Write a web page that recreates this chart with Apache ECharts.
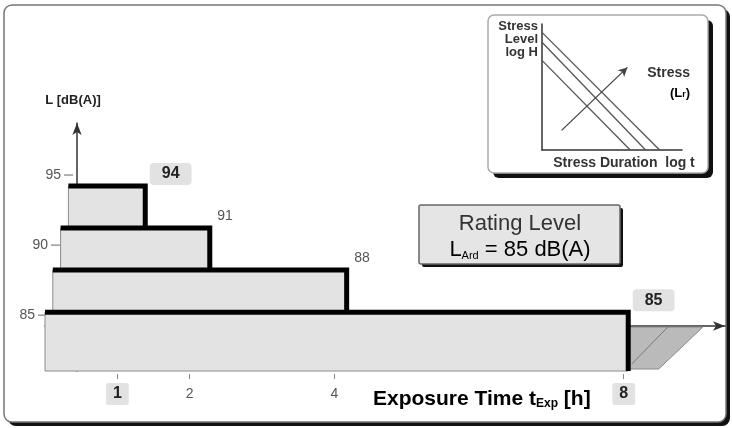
<!DOCTYPE html>
<html lang="en">
<head>
<meta charset="UTF-8">
<script src="https://cdn.jsdelivr.net/npm/echarts@6.0.0/dist/echarts.min.js"></script>
<title>Rating Level</title>
<style>html,body{margin:0;padding:0;background:#fff;}</style>
</head>
<body>
<div id="main" style="width:732px;height:428px;"></div>
<script type="text/javascript">
var chart = echarts.init(document.getElementById('main'));

// equal dose steps: +3 dB for every halving of the exposure time
var hours = [8, 4, 2, 1];
var levels = [85, 88, 91, 94];
var yTicks = [85, 90, 95];
var xTicks = [1, 2, 4, 8];

// inset: stress level vs stress duration (log / log)
var insetLines = [
    [[0, 8.4], [8.4, 0]],
    [[0, 7.7], [7.4, 0]],
    [[0, 6.4], [6.3, 0]]
];
var insetArrow = [[1.4, 1.4], [6.1, 5.9]];

var yMin = 80.8;
var SKEW = 2.6;          // px per dB, fake perspective of the steps
var boxed = [1, 8];      // hours whose labels sit in a grey box
var FONT = 'Liberation Sans, Arial, sans-serif';

function renderBar(params, api) {
    var t = api.value(0), lv = api.value(1), fl = api.value(2);
    var dx = SKEW * (lv - levels[0]);
    var x0 = api.coord([0, lv])[0] + dx;
    var p = api.coord([t, lv]);
    var x1 = p[0] + dx + 7;
    var top = p[1];
    var bottom = api.coord([0, fl])[1];
    var kids = [];
    if (t === hours[0]) {
        // shaded continuation after the shift
        kids.push({
            type: 'polygon',
            shape: { points: [[x1 - 2, top + 15], [x1 + 72, top + 15], [x1 + 28, bottom - 2], [x1 - 2, bottom - 2]] },
            style: { fill: '#bababa', stroke: '#8a8a8a', lineWidth: 1 }
        });
        kids.push({
            type: 'line',
            shape: { x1: x1 + 1, y1: bottom - 7, x2: x1 + 37, y2: top + 15 },
            style: { stroke: '#7a7a7a', lineWidth: 1 }
        });
    }
    kids.push({
        type: 'rect',
        shape: { x: x0, y: top, width: x1 - 2.5 - x0, height: bottom - top },
        style: { fill: '#e3e3e3', stroke: '#8c8c8c', lineWidth: 1 }
    });
    kids.push({
        type: 'polyline',
        shape: { points: [[x0, top], [x1 - 2.5, top], [x1 - 2.5, bottom]] },
        style: { stroke: '#000', lineWidth: 5, fill: null, lineJoin: 'miter' }
    });
    var hl = boxed.indexOf(t) >= 0;
    kids.push({
        type: 'text',
        style: {
            text: String(lv),
            x: hl ? x1 + 2 : x1 + 5,
            y: top - 12,
            align: 'left',
            verticalAlign: 'middle',
            fill: hl ? '#222' : '#555',
            font: hl ? 'bold 16px ' + FONT : '14px ' + FONT,
            backgroundColor: hl ? '#e2e2e2' : null,
            padding: hl ? [3, 12] : 0,
            borderRadius: 4
        }
    });
    return { type: 'group', children: kids };
}

function renderTick(params, api) {
    var v = api.value(1);
    var p = api.coord([0, v]);
    var x = p[0] + SKEW * (v - levels[0]);
    var y = p[1] + 3;
    return {
        type: 'group',
        children: [
            { type: 'line', shape: { x1: x - 7, y1: y, x2: x + 2, y2: y }, style: { stroke: '#666', lineWidth: 1 } },
            { type: 'text', style: { text: String(v), x: x - 10, y: y, align: 'right', verticalAlign: 'middle', fill: '#555', font: '14px ' + FONT } }
        ]
    };
}

// panel with a solid black drop shadow at right / bottom
function panel(x, y, w, h, r, off, fill, stroke, z) {
    return [
        { type: 'rect', z: z, shape: { x: x + off, y: y + off, width: w, height: h, r: r }, style: { fill: '#111' } },
        { type: 'rect', z: z + 1, shape: { x: x, y: y, width: w, height: h, r: r }, style: { fill: fill, stroke: stroke, lineWidth: 1.5 } }
    ];
}

var barData = levels.map(function (lv, i) {
    return [hours[i], lv, i === 0 ? yMin : levels[i - 1]];
}).reverse();

var insetSeries = insetLines.map(function (pts, i) {
    var s = {
        type: 'line',
        xAxisIndex: 2,
        yAxisIndex: 1,
        data: pts,
        showSymbol: false,
        silent: true,
        lineStyle: { color: '#555', width: 1.3 }
    };
    if (i === 0) {
        s.markLine = {
            silent: true,
            symbol: ['none', 'arrow'],
            symbolSize: [7, 9],
            label: { show: false },
            lineStyle: { color: '#444', width: 1.3, type: 'solid' },
            data: [[{ coord: insetArrow[0] }, { coord: insetArrow[1] }]]
        };
    }
    return s;
});

var option = {
    animation: false,
    textStyle: { fontFamily: FONT },
    grid: [
        { left: 45, right: 7, top: 123, bottom: 57 },
        { left: 542, top: 24, width: 140, height: 126 }
    ],
    xAxis: [
        {
            type: 'value', gridIndex: 0, min: 0, max: 9.4, position: 'bottom', offset: 3,
            axisLine: { show: false, onZero: false },
            axisTick: { show: true, customValues: xTicks, length: 5, lineStyle: { color: '#888' } },
            splitLine: { show: false },
            axisLabel: {
                customValues: xTicks,
                margin: 12,
                formatter: function (v) { return (boxed.indexOf(v) >= 0 ? '{hl|' : '{n|') + v + '}'; },
                rich: {
                    hl: { fontSize: 16, fontWeight: 'bold', color: '#222', backgroundColor: '#e2e2e2', borderRadius: 3, padding: [3, 7], lineHeight: 16 },
                    n: { fontSize: 14, color: '#555', padding: [3, 7], lineHeight: 16 }
                }
            }
        },
        {
            type: 'value', gridIndex: 0, min: 0, max: 9.4, position: 'bottom', offset: -45,
            axisLine: { show: true, onZero: false, symbol: ['none', 'arrow'], symbolSize: [7, 12], lineStyle: { color: '#333', width: 1.5 } },
            axisTick: { show: false }, axisLabel: { show: false }, splitLine: { show: false }
        },
        {
            type: 'value', gridIndex: 1, min: 0, max: 10,
            axisLine: { show: true, onZero: false, lineStyle: { color: '#333', width: 1.5 } },
            axisTick: { show: false }, axisLabel: { show: false }, splitLine: { show: false }
        }
    ],
    yAxis: [
        {
            type: 'value', gridIndex: 0, min: yMin, max: 98.5, position: 'left', offset: -32,
            name: 'L [dB(A)]',
            nameLocation: 'end',
            nameGap: 16,
            nameTextStyle: { fontSize: 13, fontWeight: 'bold', color: '#222', padding: [0, 8, 0, 0] },
            axisLine: { show: true, onZero: false, symbol: ['none', 'arrow'], symbolSize: [7, 12], lineStyle: { color: '#333', width: 1.5 } },
            axisTick: { show: false }, axisLabel: { show: false }, splitLine: { show: false }
        },
        {
            type: 'value', gridIndex: 1, min: 0, max: 9,
            axisLine: { show: true, onZero: false, lineStyle: { color: '#333', width: 1.5 } },
            axisTick: { show: false }, axisLabel: { show: false }, splitLine: { show: false }
        }
    ],
    graphic: []
        .concat(panel(4, 5, 722, 417, 8, 4, '#fff', '#777', -12))
        .concat(panel(488, 15, 220, 158, 6, 5, '#fff', '#aaa', -8))
        .concat(panel(419, 205, 201, 59, 2, 3, '#e5e5e5', '#666', -8))
        .concat([
        {
            type: 'text', z: 5,
            style: { text: 'Rating Level', x: 520, y: 224, align: 'center', verticalAlign: 'middle', fill: '#333', font: '22px ' + FONT }
        },
        {
            type: 'text', z: 5,
            style: {
                text: '{a|L}{s|Ard}{a| = 85 dB(A)}', x: 520, y: 248, align: 'center', verticalAlign: 'middle',
                rich: {
                    a: { fontSize: 22, lineHeight: 26, color: '#333', fontFamily: FONT, verticalAlign: 'bottom' },
                    s: { fontSize: 11, lineHeight: 11, color: '#333', fontFamily: FONT, verticalAlign: 'bottom' }
                }
            }
        },
        {
            type: 'text', z: 5,
            style: {
                text: '{a|Exposure Time t}{s|Exp}{a| [h]}', x: 373, y: 398, align: 'left', verticalAlign: 'middle',
                rich: {
                    a: { fontSize: 21, lineHeight: 24, fontWeight: 'bold', color: '#222', fontFamily: FONT, verticalAlign: 'bottom' },
                    s: { fontSize: 12, lineHeight: 12, fontWeight: 'bold', color: '#222', fontFamily: FONT, verticalAlign: 'bottom' }
                }
            }
        },
        {
            type: 'text', z: 5,
            style: { text: 'Stress\nLevel\nlog H', x: 538, y: 20, align: 'right', verticalAlign: 'top', fill: '#333', font: 'bold 13px ' + FONT, lineHeight: 13 }
        },
        {
            type: 'text', z: 5,
            style: { text: 'Stress', x: 690, y: 73, align: 'right', verticalAlign: 'middle', fill: '#333', font: 'bold 14px ' + FONT }
        },
        {
            type: 'text', z: 5,
            style: {
                text: '{a|(L}{s|r}{a|)}', x: 690, y: 92, align: 'right', verticalAlign: 'middle',
                rich: {
                    a: { fontSize: 13, lineHeight: 15, fontWeight: 'bold', color: '#333', fontFamily: FONT, verticalAlign: 'bottom' },
                    s: { fontSize: 9, lineHeight: 9, fontWeight: 'bold', color: '#333', fontFamily: FONT, verticalAlign: 'bottom' }
                }
            }
        },
        {
            type: 'text', z: 5,
            style: { text: 'Stress Duration  log t', x: 624, y: 163, align: 'center', verticalAlign: 'middle', fill: '#333', font: 'bold 14px ' + FONT }
        }
    ]),
    series: [
        {
            type: 'custom',
            xAxisIndex: 0, yAxisIndex: 0,
            renderItem: renderTick,
            data: yTicks.map(function (v) { return [0, v]; }),
            silent: true
        },
        {
            type: 'custom',
            xAxisIndex: 0, yAxisIndex: 0,
            renderItem: renderBar,
            data: barData,
            silent: true
        }
    ].concat(insetSeries)
};

chart.setOption(option);
</script>
</body>
</html>
